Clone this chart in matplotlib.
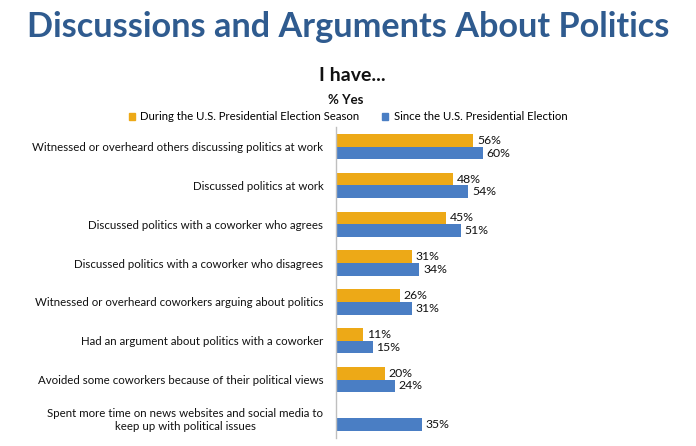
"""Horizontal grouped bars: discussions and arguments about politics at work."""

import matplotlib.pyplot as plt
import numpy as np

TITLE_BLUE = "#2F5B8F"
GOLD = "#EDA917"
BLUE = "#4A7EC4"
TEXT = "#111111"
FONT = "Lato"

categories = [
    "Witnessed or overheard others discussing politics at work",
    "Discussed politics at work",
    "Discussed politics with a coworker who agrees",
    "Discussed politics with a coworker who disagrees",
    "Witnessed or overheard coworkers arguing about politics",
    "Had an argument about politics with a coworker",
    "Avoided some coworkers because of their political views",
    "Spent more time on news websites and social media to\nkeep up with political issues",
]
during = [56, 48, 45, 31, 26, 11, 20, None]
since = [60, 54, 51, 34, 31, 15, 24, 35]
series_names = [
    "During the U.S. Presidential Election Season",
    "Since the U.S. Presidential Election",
]


def main() -> None:
    plt.rcParams["font.family"] = [FONT, "DejaVu Sans"]

    fig = plt.figure(figsize=(6.96, 4.46), dpi=100)
    ax = fig.add_axes([0.4825, 0.0186, 0.352, 0.696])

    y = np.arange(len(categories))
    h = 0.327

    for i, (d, s) in enumerate(zip(during, since)):
        if d is not None:
            ax.barh(i - h / 2, d, height=h, color=GOLD)
            ax.text(d + 1.6, i - h / 2, f"{d}%", va="center", ha="left",
                    fontsize=8.8, color=TEXT)
        ax.barh(i + h / 2, s, height=h, color=BLUE)
        ax.text(s + 1.6, i + h / 2, f"{s}%", va="center", ha="left",
                fontsize=8.8, color=TEXT)

    ax.set_xlim(0, 100)
    ax.set_ylim(len(categories) - 0.5, -0.5)
    ax.set_yticks(y)
    ax.set_yticklabels(categories, fontsize=8.3, color=TEXT,
                       multialignment="center")
    ax.tick_params(axis="y", length=0, pad=9)
    ax.set_xticks([])
    for side in ("top", "right", "bottom"):
        ax.spines[side].set_visible(False)
    ax.spines["left"].set_color("#BFBFBF")
    ax.spines["left"].set_linewidth(1.0)

    fig.text(0.5, 0.94, "Discussions and Arguments About Politics",
             ha="center", va="center", fontsize=24.7, fontweight="bold",
             color=TITLE_BLUE)
    fig.text(0.506, 0.83, "I have...", ha="center", va="center",
             fontsize=14, fontweight="bold", color=TEXT)
    fig.text(0.497, 0.775, "% Yes", ha="center", va="center",
             fontsize=9.5, fontweight="bold", color=TEXT)

    handles = [plt.Rectangle((0, 0), 1, 1, color=c) for c in (GOLD, BLUE)]
    fig.legend(handles, series_names, loc="center", ncol=2,
               bbox_to_anchor=(0.5, 0.738), frameon=False, fontsize=8.2,
               handlelength=0.5, handleheight=0.5, handletextpad=0.5,
               columnspacing=2.0, borderaxespad=0)

    fig.savefig("out.png", facecolor="white")
    plt.close(fig)


if __name__ == "__main__":
    main()
